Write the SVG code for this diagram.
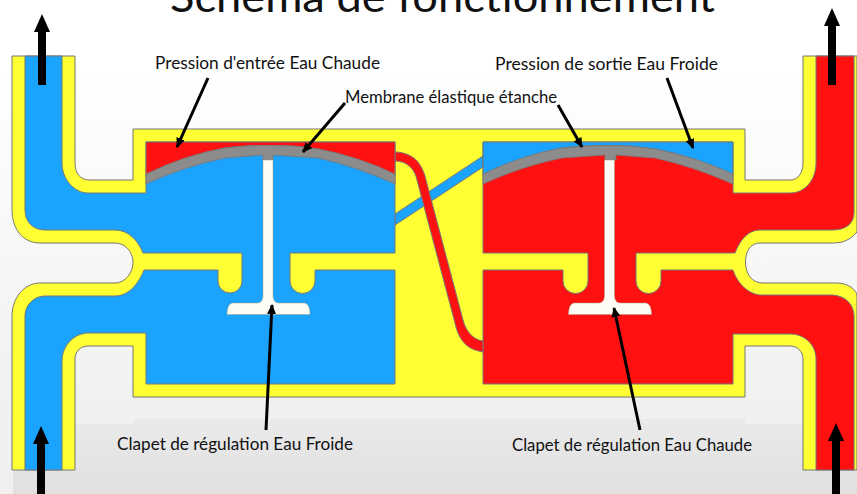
<svg xmlns="http://www.w3.org/2000/svg" width="857" height="494" viewBox="0 0 857 494">
<style>
.o{stroke:#777;stroke-width:1;stroke-linejoin:round}
.y{fill:#ffff33}.b{fill:#1aa3ff}.r{fill:#ff1111}.m{fill:#8c8c8c;stroke:#777;stroke-width:.8}
.v{fill:#fdfdf5;stroke:#a0a080;stroke-width:.5}
.l{stroke:#000;stroke-width:3;fill:none;marker-end:url(#h)}
.f{stroke:#000;stroke-width:8;fill:none}
.t{font-family:Lato,"Noto Sans",sans-serif;font-size:16.5px;fill:#111}
</style>
<defs>
<linearGradient id="bg" x1="0" y1="0" x2="0" y2="1"><stop offset="0.15" stop-color="#fff"/><stop offset="0.85" stop-color="#f0f0f0"/><stop offset="1" stop-color="#f0f0f0"/></linearGradient>
<linearGradient id="bg2" x1="0" y1="0" x2="0" y2="1"><stop offset="0" stop-color="#eaeaea"/><stop offset="1" stop-color="#e0e0e0"/></linearGradient>
<marker id="h" markerUnits="userSpaceOnUse" markerWidth="12" markerHeight="10" refX="9" refY="4.5" orient="auto"><path d="M0,0L10,4.5L0,9Z" fill="#000"/></marker>
<path id="valve" d="M263,160H273V295C273,300 275,303 279,303H304C308,303 310,308 310,314.5H227C227,308 229,303 233,303H257C261,303 263,300 263,295Z"/>
</defs>
<rect width="857" height="494" fill="url(#bg)"/>
<path d="M13,424H134V419H745V424H857V494H13Z" fill="url(#bg2)"/>
<text x="170" y="12" font-family="Lato,'Noto Sans',sans-serif" font-size="42" fill="#111" textLength="545" lengthAdjust="spacingAndGlyphs">Schéma de fonctionnement</text>
<g id="body">
<path class="y o" d="M12,56H75V163C75,173 80,180 90,180H133V129H745V180H790C798,180 803,173 803,163V56H857V232C850,240 843,243 833,243H760C750,243 745.5,252 745.5,262C745.5,274 752,283 763,283H837C848,283 857,290 857,296V470H803V359C803,352 798,346 790,346H745V397H133V346H88C80,346 75,352 75,359V470H12V316C12,297 25,283 40,283H115C125,283 133,273 133,262C133,252 125,243 115,243H40C22,243 12,228 12,210Z"/>
</g>
<g id="cold-circuit">
<path class="b o" d="M395,214L483,156V167L395,225Z"/>
<path class="b o" d="M25,56H62V163C62,180 75,193 88,193H146V142H395V253H290V281A12.5,12.5 0 0 0 315,281V270H395V384H146V333H88C75,333 62,345 62,361V470H25V316C25,305 34,296 45,296H115C128,296 138,285 144,270H218V281A12,12 0 0 0 242,281V253H143C138,240 128,230 115,230H45C33,230 25,222 25,210Z"/>
</g>
<g id="hot-circuit">
<path class="r o" d="M816,56H854V213C854,224 845,230 833,230H760C748,230 740,240 735,253H636V281A12.5,12.5 0 0 0 661,281V270H733C738,285 750,295 762,295H833C846,296 854,305 854,316V470H816V359C816,345 805,334 790,334H733V384H483V270H563V281A12.5,12.5 0 0 0 588,281V253H483V142H733V193H790C805,193 816,180 816,163Z"/>
<path class="r o" d="M395,152C404,152 415,156 420,165C423,170 425,175 426,180L463,320C466,332 474,340 483,341V352C472,350 460,346 455,323L417,180C415,170 408,161 395,161Z"/>
</g>
<g id="left-chamber">
<path class="r o" d="M146,142H395V176Q360,157 318,149Q295,145 270,145.5Q250,145 225,148Q185,155 146,176Z"/>
<path class="m" d="M146,174Q185,155 225,148Q250,145 270,145.5Q295,145 318,149Q360,157 395,174V184Q355,166 318,158L273,155V160H262.7V155L225,158Q185,166 146,184Z"/>
<use href="#valve" class="v"/>
</g>
<g id="right-chamber">
<path class="b o" d="M483,142H733V176Q697,157 655,149Q632,145 608,145.5Q590,145 562,148Q522,155 483,176Z"/>
<path class="m" d="M483,174Q522,155 562,148Q590,145 608,145.5Q632,145 655,149Q697,157 733,174V184Q692,166 655,158L616,155V160H605V155L562,158Q522,166 483,184Z"/>
<use href="#valve" class="v" x="341.5"/>
</g>
<g id="connectors">
<path class="f" d="M42,85V30"/><path d="M42,14L50,32H34Z"/>
<path class="f" d="M832,85V24"/><path d="M832,8L840,26H824Z"/>
<path class="f" d="M41,494V442"/><path d="M41,426L49,444H33Z"/>
<path class="f" d="M836,494V439"/><path d="M836,423L844,441H828Z"/>
<path class="l" d="M208,78L177,147"/>
<path class="l" d="M345,103L303,152"/>
<path class="l" d="M558,105L582,147"/>
<path class="l" d="M667,78L693,148"/>
<path class="l" d="M266,430L272,305"/>
<path class="l" d="M640,430L614,308"/>
</g>
<g id="labels">
<text class="t" x="155" y="69" textLength="225" lengthAdjust="spacingAndGlyphs">Pression d'entrée Eau Chaude</text>
<text class="t" x="345" y="103" textLength="212" lengthAdjust="spacingAndGlyphs">Membrane élastique étanche</text>
<text class="t" x="495" y="70" textLength="223" lengthAdjust="spacingAndGlyphs">Pression de sortie Eau Froide</text>
<text class="t" x="117" y="450" textLength="236" lengthAdjust="spacingAndGlyphs">Clapet de régulation Eau Froide</text>
<text class="t" x="512" y="451" textLength="240" lengthAdjust="spacingAndGlyphs">Clapet de régulation Eau Chaude</text>
</g>
</svg>
